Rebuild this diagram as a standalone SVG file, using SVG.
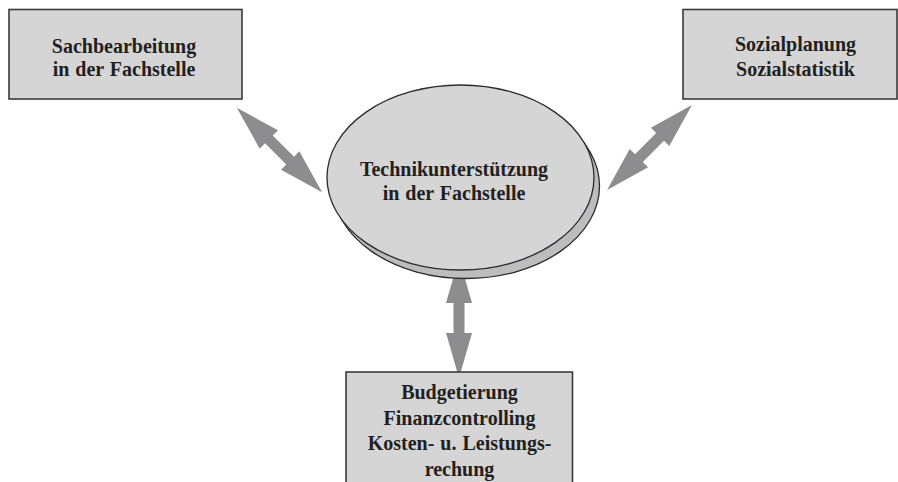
<svg xmlns="http://www.w3.org/2000/svg" xmlns:xlink="http://www.w3.org/1999/xlink" width="898" height="482" viewBox="0 0 898 482">
<style>
.box{fill:#d5d5d6;stroke:#3a3a3a;stroke-width:1.6}
.ell{fill:#d5d5d6;stroke:#2a2a2a;stroke-width:1.3}
.shadow{fill:#bdbdbf;stroke:#2a2a2a;stroke-width:1.3}
.t{font-weight:bold;font-size:20px;fill:#231f20;text-anchor:middle;word-spacing:1px}
.arr{fill:#8d8d90}
</style>
<defs>
<polygon id="dbl" points="-60,0 -15,-13 -15,-5.5 15,-5.5 15,-13 60,0 15,13 15,5.5 -15,5.5 -15,13"/>
</defs>
<rect width="898" height="482" fill="#ffffff"/>
<g id="connectors" class="arr">
<use xlink:href="#dbl" transform="translate(279.5,150) rotate(44.7)"/>
<use xlink:href="#dbl" transform="translate(649.5,147.5) rotate(-45)"/>
<use xlink:href="#dbl" transform="translate(459,318) rotate(90)"/>
</g>
<g font-family="'Liberation Serif', 'Times New Roman', serif">
<g id="sachbearbeitung">
<rect class="box" x="9" y="9.5" width="233" height="89.5"/>
<text class="t" x="124" y="52.5">Sachbearbeitung</text>
<text class="t" x="124" y="75.5">in der Fachstelle</text>
</g>
<g id="sozialplanung">
<rect class="box" x="683" y="9.5" width="214" height="89.5"/>
<text class="t" x="795.5" y="50.5">Sozialplanung</text>
<text class="t" x="795.5" y="75.5">Sozialstatistik</text>
</g>
<g id="technikunterstuetzung">
<ellipse class="shadow" cx="466" cy="186" rx="133.5" ry="92.5"/>
<ellipse class="ell" cx="460.5" cy="177.5" rx="133.5" ry="92.5"/>
<text class="t" x="454" y="175.5">Technikunterstützung</text>
<text class="t" x="454" y="199.5">in der Fachstelle</text>
</g>
<g id="budgetierung">
<rect class="box" x="346" y="372" width="226.5" height="115"/>
<text class="t" x="459.5" y="398.5">Budgetierung</text>
<text class="t" x="459.5" y="424.5">Finanzcontrolling</text>
<text class="t" x="459.5" y="450">Kosten- u. Leistungs-</text>
<text class="t" x="459.5" y="475.5">rechung</text>
</g>
</g>
</svg>
